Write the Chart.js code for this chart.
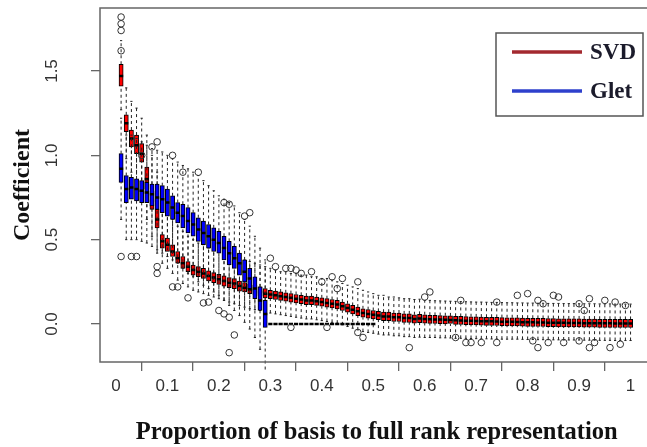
<!DOCTYPE html>
<html><head><meta charset="utf-8">
<script src="https://cdn.jsdelivr.net/npm/chart.js@4.4.0/dist/chart.umd.min.js"></script>
<style>
html,body{margin:0;padding:0;overflow:hidden;background:#fff;width:647px;height:447px}
#wrap{position:absolute;left:0;top:0;width:660px;height:447px}
</style>
</head><body><div id="wrap"><canvas id="c" width="660" height="447"></canvas></div>
<script>
const seriesNames = ['SVD', 'Glet'];
const xTickValues = [0,0.1,0.2,0.3,0.4,0.5,0.6,0.7,0.8,0.9,1];
const xTickLabels = ['0','0.1','0.2','0.3','0.4','0.5','0.6','0.7','0.8','0.9','1'];
const yTickValues = [0,0.5,1,1.5];
const yTickLabels = ['0.0','0.5','1.0','1.5'];

const boxPositions = [0.01,0.02,0.03,0.04,0.05,0.06,0.07,0.08,0.09,0.10,
 0.11,0.12,0.13,0.14,0.15,0.16,0.17,0.18,0.19,0.20,
 0.21,0.22,0.23,0.24,0.25,0.26,0.27,0.28,0.29,0.30,
 0.31,0.32,0.33,0.34,0.35,0.36,0.37,0.38,0.39,0.40,
 0.41,0.42,0.43,0.44,0.45,0.46,0.47,0.48,0.49,0.50,
 0.51,0.52,0.53,0.54,0.55,0.56,0.57,0.58,0.59,0.60,
 0.61,0.62,0.63,0.64,0.65,0.66,0.67,0.68,0.69,0.70,
 0.71,0.72,0.73,0.74,0.75,0.76,0.77,0.78,0.79,0.80,
 0.81,0.82,0.83,0.84,0.85,0.86,0.87,0.88,0.89,0.90,
 0.91,0.92,0.93,0.94,0.95,0.96,0.97,0.98,0.99,1.00];

// SVD box statistics (one per position)
const svdMedian = [1.47,1.19,1.10,1.06,1.01,0.86,0.73,0.62,0.49,0.47,
 0.43,0.39,0.36,0.34,0.32,0.31,0.30,0.285,0.275,0.265,
 0.255,0.245,0.24,0.225,0.215,0.205,0.20,0.19,0.18,0.175,
 0.17,0.165,0.16,0.155,0.15,0.145,0.14,0.14,0.135,0.13,
 0.125,0.12,0.115,0.105,0.095,0.085,0.075,0.065,0.06,0.055,
 0.05,0.045,0.045,0.04,0.04,0.035,0.035,0.03,0.032,0.03,
 0.028,0.027,0.026,0.025,0.024,0.022,0.021,0.02,0.019,0.018,
 0.017,0.016,0.016,0.015,0.014,0.013,0.013,0.012,0.011,0.01,
 0.01,0.009,0.009,0.008,0.008,0.007,0.007,0.006,0.006,0.006,
 0.005,0.005,0.005,0.004,0.004,0.004,0.003,0.003,0.003,0.003];
const svdQ1 = [1.41,1.14,1.05,1.01,0.96,0.80,0.68,0.57,0.45,0.43,
 0.40,0.36,0.33,0.31,0.29,0.28,0.27,0.255,0.245,0.235,
 0.225,0.215,0.21,0.195,0.19,0.18,0.175,0.165,0.155,0.15,
 0.145,0.14,0.135,0.13,0.125,0.12,0.115,0.115,0.11,0.105,
 0.10,0.095,0.09,0.08,0.07,0.06,0.05,0.04,0.035,0.03,
 0.025,0.02,0.02,0.015,0.015,0.01,0.01,0.005,0.008,0.005,
 0.004,0.003,0.002,0.001,0.0,-0.002,-0.003,-0.004,-0.005,-0.006,
 -0.007,-0.008,-0.008,-0.009,-0.01,-0.011,-0.011,-0.012,-0.013,-0.014,
 -0.014,-0.015,-0.015,-0.016,-0.016,-0.017,-0.017,-0.018,-0.018,-0.018,
 -0.019,-0.019,-0.019,-0.02,-0.02,-0.02,-0.021,-0.021,-0.021,-0.021];
const svdQ3 = [1.54,1.24,1.15,1.12,1.07,0.93,0.79,0.68,0.53,0.51,
 0.47,0.43,0.40,0.37,0.35,0.34,0.33,0.315,0.305,0.295,
 0.285,0.275,0.27,0.255,0.245,0.235,0.23,0.22,0.21,0.20,
 0.195,0.19,0.185,0.18,0.175,0.17,0.165,0.165,0.16,0.155,
 0.15,0.145,0.14,0.13,0.12,0.11,0.10,0.09,0.085,0.08,
 0.075,0.07,0.07,0.065,0.065,0.06,0.06,0.055,0.057,0.055,
 0.052,0.051,0.05,0.049,0.048,0.046,0.045,0.044,0.043,0.042,
 0.041,0.04,0.04,0.039,0.038,0.037,0.037,0.036,0.035,0.034,
 0.034,0.033,0.033,0.032,0.032,0.031,0.031,0.03,0.03,0.03,
 0.029,0.029,0.029,0.028,0.028,0.028,0.027,0.027,0.027,0.027];
const svdLow = [1.27,0.98,0.90,0.85,0.78,0.62,0.52,0.42,0.36,0.33,
 0.30,0.26,0.24,0.22,0.20,0.19,0.18,0.17,0.16,0.15,
 0.14,0.13,0.12,0.11,0.10,0.09,0.085,0.08,0.07,0.065,
 0.06,0.055,0.05,0.045,0.04,0.035,0.03,0.03,0.025,0.02,
 0.015,0.01,0.005,-0.005,-0.015,-0.025,-0.035,-0.045,-0.05,-0.055,
 -0.06,-0.065,-0.065,-0.07,-0.07,-0.075,-0.075,-0.08,-0.078,-0.08,
 -0.08,-0.08,-0.082,-0.082,-0.083,-0.085,-0.085,-0.085,-0.086,-0.087,
 -0.088,-0.088,-0.089,-0.089,-0.09,-0.09,-0.09,-0.09,-0.091,-0.092,
 -0.092,-0.093,-0.093,-0.093,-0.094,-0.094,-0.095,-0.095,-0.095,-0.095,
 -0.096,-0.096,-0.096,-0.097,-0.097,-0.097,-0.098,-0.098,-0.098,-0.098];
const svdHigh = [1.68,1.40,1.32,1.28,1.22,1.12,1.00,0.90,0.70,0.66,
 0.62,0.58,0.55,0.52,0.50,0.48,0.47,0.45,0.44,0.43,
 0.42,0.41,0.40,0.39,0.38,0.37,0.36,0.35,0.34,0.33,
 0.32,0.31,0.31,0.30,0.30,0.29,0.29,0.28,0.28,0.27,
 0.27,0.26,0.25,0.24,0.23,0.22,0.21,0.20,0.19,0.18,
 0.17,0.17,0.16,0.16,0.155,0.15,0.15,0.145,0.147,0.14,
 0.14,0.138,0.137,0.136,0.135,0.134,0.133,0.132,0.131,0.13,
 0.13,0.129,0.128,0.128,0.127,0.126,0.126,0.125,0.125,0.124,
 0.124,0.123,0.123,0.122,0.122,0.122,0.121,0.121,0.121,0.12,
 0.12,0.12,0.12,0.119,0.119,0.119,0.118,0.118,0.118,0.118];

// Glet box statistics (positions 0.01 .. 0.50)
const gletMedian = [0.92,0.80,0.81,0.80,0.79,0.78,0.77,0.75,0.74,0.72,
 0.69,0.66,0.64,0.61,0.59,0.56,0.54,0.52,0.50,0.48,
 0.45,0.42,0.39,0.36,0.31,0.27,0.21,0.14,0.06,0,
 0,0,0,0,0,0,0,0,0,0, 0,0,0,0,0,0,0,0,0,0];
const gletQ1 = [0.84,0.72,0.74,0.73,0.72,0.72,0.70,0.68,0.66,0.64,
 0.62,0.60,0.57,0.54,0.52,0.49,0.47,0.45,0.43,0.42,
 0.38,0.35,0.33,0.29,0.25,0.21,0.15,0.08,-0.02,0,
 0,0,0,0,0,0,0,0,0,0, 0,0,0,0,0,0,0,0,0,0];
const gletQ3 = [1.01,0.88,0.87,0.86,0.85,0.84,0.83,0.83,0.82,0.80,
 0.76,0.72,0.71,0.69,0.66,0.63,0.61,0.59,0.57,0.55,
 0.52,0.49,0.46,0.42,0.38,0.33,0.28,0.22,0.14,0,
 0,0,0,0,0,0,0,0,0,0, 0,0,0,0,0,0,0,0,0,0];
const gletLow = [0.62,0.50,0.50,0.50,0.49,0.48,0.46,0.44,0.42,0.40,
 0.38,0.36,0.33,0.30,0.28,0.25,0.23,0.21,0.19,0.17,
 0.14,0.11,0.08,0.05,0.01,-0.03,-0.08,-0.15,-0.27,0,
 0,0,0,0,0,0,0,0,0,0, 0,0,0,0,0,0,0,0,0,0];
const gletHigh = [1.22,1.12,1.12,1.10,1.08,1.06,1.04,1.03,1.02,1.00,
 0.98,0.96,0.94,0.92,0.90,0.88,0.85,0.82,0.79,0.76,
 0.74,0.72,0.70,0.66,0.62,0.58,0.52,0.45,0.38,0,
 0,0,0,0,0,0,0,0,0,0, 0,0,0,0,0,0,0,0,0,0];

// outlying points
const outlierX = [0.01,0.01,0.01,0.01, 0.05,0.07,0.08,0.11,0.13,0.16,
 0.01,0.03,0.04,0.08,0.08,0.11,0.12,0.14,0.17,0.18,0.20,0.21,0.22,0.23,0.22,
 0.21,0.22,0.25,0.26, 0.30,0.31,0.33,0.34,0.35,0.36,0.38,0.34,
 0.40,0.42,0.43,0.44,0.47,0.41,0.47,0.48,0.57,
 0.60,0.61,0.67,0.74,0.66,0.68,0.69,0.71,0.74,
 0.78,0.80,0.82,0.83,0.85,0.86,0.81,0.82,0.84,0.87,
 0.90,0.91,0.92,0.95,0.97,0.99,0.90,0.92,0.93,0.96,0.98];
const outlierY = [1.82,1.78,1.74,1.62, 1.00,1.05,1.08,1.00,0.90,0.90,
 0.40,0.40,0.40,0.34,0.30,0.22,0.22,0.155,0.125,0.13,0.08,0.06,0.04,-0.065,-0.17,
 0.72,0.71,0.64,0.66, 0.39,0.34,0.33,0.33,0.32,0.30,0.31,-0.02,
 0.25,0.28,0.21,0.27,0.25,-0.02,-0.05,-0.08,-0.14,
 0.16,0.19,0.14,0.13,-0.08,-0.11,-0.11,-0.11,-0.11,
 0.17,0.18,0.14,0.12,0.17,0.16,-0.10,-0.14,-0.11,-0.11,
 0.12,0.08,0.15,0.14,0.13,0.11,-0.10,-0.14,-0.11,-0.14,-0.12];

// ---------- build library data ----------
function boxData(q1, q3) {
  return q1.map((v, i) => ({x: boxPositions[i], y: [v, q3[i]]}));
}
function pointData(vals) {
  return vals.map((v, i) => ({x: boxPositions[i], y: v}));
}
function whiskerData(q1, q3, lo, hi) {
  const out = [];
  q1.forEach((v, i) => {
    const x = boxPositions[i];
    out.push({x, y: lo[i]}, {x, y: v}, {x, y: null},
             {x, y: q3[i]}, {x, y: hi[i]}, {x, y: null});
  });
  return out;
}
function stapleData(lo, hi) {
  const out = [];
  lo.forEach((v, i) => { out.push({x: boxPositions[i], y: v}, {x: boxPositions[i], y: hi[i]}); });
  return out;
}

const PX0 = 116, PX1 = 632, AREA_L = 100, AREA_R = 655;
const xMin = (AREA_L - PX0) / (PX1 - PX0), xMax = (AREA_R - PX0) / (PX1 - PX0);
const PY0 = 324, PY15 = 71, AREA_T = 8, AREA_B = 362;
const pxPerUnit = (PY0 - PY15) / 1.5;
const yMin = -(AREA_B - PY0) / pxPerUnit, yMax = (PY0 - AREA_T) / pxPerUnit;

const serif = '"Liberation Serif", "Times New Roman", serif';
const sans = '"Liberation Sans", Arial, sans-serif';
const BOXW = 4.2;

function series(prefix, color, q1, med, q3, lo, hi, base, clipW) {
  return [
    {type: 'line', label: prefix + ' whiskers', data: whiskerData(q1, q3, lo, hi),
     borderColor: '#222', borderWidth: 1, borderDash: [3, 3], pointRadius: 0,
     spanGaps: false, fill: false, order: base + 4, clip: clipW},
    {type: 'scatter', label: prefix + ' staples', data: stapleData(lo, hi),
     pointStyle: 'line', pointRadius: 1.1, pointBorderWidth: 1, pointBorderColor: '#222',
     order: base + 3, clip: clipW},
    {type: 'bar', label: prefix, data: boxData(q1, q3), backgroundColor: color,
     borderColor: '#000', borderWidth: 1, borderSkipped: false,
     barThickness: BOXW, grouped: false, order: base + 2},
    {type: 'scatter', label: prefix + ' medians', data: pointData(med),
     pointStyle: 'line', pointRadius: BOXW / 2, pointBorderWidth: 2.5, pointBorderColor: '#000',
     order: base + 1}
  ];
}

const datasets = [
  ...series(seriesNames[0], '#ff0000', svdQ1, svdMedian, svdQ3, svdLow, svdHigh, 20, true),
  ...series(seriesNames[1], '#0000ff', gletQ1, gletMedian, gletQ3, gletLow, gletHigh, 10, false),
  {type: 'scatter', label: 'outliers', data: outlierX.map((x, i) => ({x, y: outlierY[i]})),
   pointStyle: 'circle', pointRadius: 3.3, pointBorderWidth: 1, pointBorderColor: '#333',
   pointBackgroundColor: 'rgba(0,0,0,0)', order: 1}
];

const framePlugin = {
  id: 'frame',
  afterDraw(chart) {
    const ctx = chart.ctx, a = chart.chartArea;
    ctx.save();
    ctx.strokeStyle = '#666'; ctx.lineWidth = 1.5;
    ctx.strokeRect(a.left, a.top, a.right - a.left, a.bottom - a.top);
    // rotated y tick labels
    const ys = chart.scales.y;
    ctx.fillStyle = '#333'; ctx.font = '17px ' + sans;
    ctx.textAlign = 'center'; ctx.textBaseline = 'middle';
    yTickValues.forEach((v, i) => {
      ctx.save();
      ctx.translate(52, ys.getPixelForValue(v));
      ctx.rotate(-Math.PI / 2);
      ctx.fillText(yTickLabels[i], 0, 0);
      ctx.restore();
    });
    // legend
    const L = 496, T = 33, R = 643, B = 116;
    ctx.fillStyle = '#fff'; ctx.fillRect(L, T, R - L, B - T);
    ctx.strokeStyle = '#555'; ctx.lineWidth = 1.5;
    ctx.strokeRect(L, T, R - L, B - T);
    const legendColors = ['#a3292f', '#2e40cc'];
    const legendY = [52, 91];
    seriesNames.forEach((n, i) => {
      ctx.strokeStyle = legendColors[i]; ctx.lineWidth = 3.5;
      ctx.beginPath(); ctx.moveTo(512, legendY[i]); ctx.lineTo(582, legendY[i]); ctx.stroke();
      ctx.fillStyle = '#1b1b2b'; ctx.font = 'bold 23px ' + serif;
      ctx.textAlign = 'left'; ctx.textBaseline = 'middle';
      ctx.fillText(n, 590, legendY[i] + 1);
    });
    ctx.restore();
  }
};

new Chart(document.getElementById('c'), {
  type: 'bar',
  data: {datasets},
  options: {
    responsive: false, animation: false, devicePixelRatio: 1, events: [],
    layout: {padding: {top: AREA_T, right: 660 - AREA_R, left: 0, bottom: 0}},
    plugins: {legend: {display: false}, tooltip: {enabled: false}},
    scales: {
      x: {
        type: 'linear', min: xMin, max: xMax, offset: false,
        afterBuildTicks: s => { s.ticks = xTickValues.map(v => ({value: v})); },
        afterFit: s => { s.height = 447 - AREA_B; },
        ticks: {callback: (v, i) => xTickLabels[i], font: {family: sans, size: 17},
                color: '#333', padding: 5, maxRotation: 0, minRotation: 0, autoSkip: false},
        grid: {drawOnChartArea: false, drawTicks: true, tickLength: 9, color: '#666', lineWidth: 1.3},
        border: {display: false},
        title: {display: true, text: 'Proportion of basis to full rank representation',
                font: {family: serif, size: 24.5, weight: 'bold'}, color: '#111',
                padding: {top: 0, bottom: 0}}
      },
      y: {
        type: 'linear', min: yMin, max: yMax,
        afterBuildTicks: s => { s.ticks = yTickValues.map(v => ({value: v})); },
        afterFit: s => { s.width = AREA_L; },
        ticks: {display: false},
        grid: {drawOnChartArea: false, drawTicks: true, tickLength: 9, color: '#666', lineWidth: 1.3},
        border: {display: false},
        title: {display: true, text: 'Coefficient',
                font: {family: serif, size: 24, weight: 'bold'}, color: '#111',
                padding: {top: 8, bottom: 0}}
      }
    }
  },
  plugins: [framePlugin]
});
</script>
</body></html>
